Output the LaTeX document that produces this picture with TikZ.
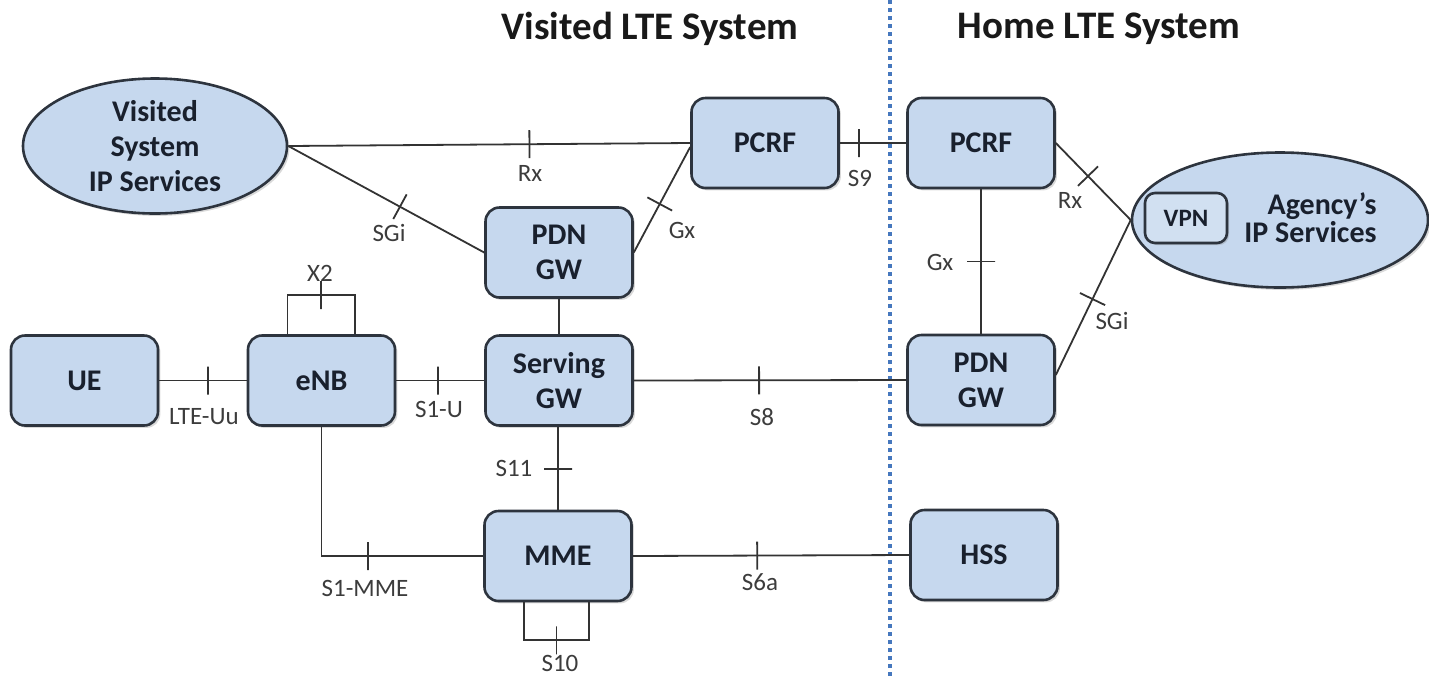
\documentclass[tikz,border=0pt]{standalone}
\usepackage{fontspec}
\setmainfont{Carlito}
\usetikzlibrary{shapes.geometric,shadows}
\definecolor{boxfill}{RGB}{198,216,238}
\definecolor{boxdraw}{RGB}{45,52,62}
\definecolor{txt}{RGB}{25,32,45}
\definecolor{lbl}{RGB}{60,60,60}
\definecolor{divider}{RGB}{70,120,190}
\begin{document}
\begin{tikzpicture}[x=0.5pt,y=-0.5pt,
  box/.style={draw=boxdraw, line width=1.3pt, fill=boxfill, rounded corners=7pt,
    minimum width=73.5pt, minimum height=45pt, inner sep=0pt, align=center,
    font=\fontsize{15}{17.5}\selectfont\bfseries, text=txt,
    drop shadow={opacity=0.3, shadow xshift=1.2pt, shadow yshift=-1.2pt}},
  smallbox/.style={draw=boxdraw, line width=1.3pt, fill=boxfill!80!white, rounded corners=5pt,
    minimum width=41pt, minimum height=25pt, inner sep=0pt,
    font=\fontsize{12.5}{15}\selectfont\bfseries, text=txt,
    drop shadow={opacity=0.3, shadow xshift=1pt, shadow yshift=-1pt}},
  ell/.style={ellipse, draw=boxdraw, line width=1.3pt, fill=boxfill, inner sep=0pt, align=center,
    font=\fontsize{15}{17.5}\selectfont\bfseries, text=txt,
    drop shadow={opacity=0.3, shadow xshift=1.2pt, shadow yshift=-1.2pt}},
  link/.style={draw=black!80, line width=0.9pt},
  tick/.style={draw=black!80, line width=0.9pt, shape=rectangle, minimum width=0pt,
    minimum height=14pt, inner sep=0pt, outer sep=0pt, sloped},
  lbl/.style={font=\fontsize{12.5}{15}\selectfont, text=lbl, inner sep=1pt},
  ttl/.style={font=\fontsize{19.5}{23}\selectfont\bfseries, text=black!90},
  dotline/.style={draw=divider, line width=2pt, dash pattern=on 2pt off 2pt}
]
\useasboundingbox (0,0) rectangle (1429,676);

% divider
\coordinate (dtop) at (890,0);
\coordinate (dbot) at (890,676);
\draw[dotline] (dtop) -- (dbot);

% titles
\node[ttl] (tvis) at (650,29) {Visited LTE System};
\node[ttl] (thome) at (1099,29) {Home LTE System};

% nodes
\node[ell, minimum width=132pt, minimum height=67.5pt] (vis) at (155,146) {Visited\\System\\IP Services};
\node[box] (pcrfv) at (765,143) {PCRF};
\node[box] (pdnv) at (559,252.5) {PDN\\GW};
\node[box] (pcrfh) at (981,143) {PCRF};
\node[ell, minimum width=148pt, minimum height=67.5pt] (agency) at (1280,220) {};
\node[smallbox] (vpn) at (1186,218) {VPN};
\node[align=right, font=\fontsize{15}{14}\selectfont\bfseries, text=txt, anchor=east, inner sep=0pt] (agtxt) at (1377,218) {Agency’s\\IP Services};
\node[box] (ue) at (84.5,380.5) {UE};
\node[box] (enb) at (321.5,380.5) {eNB};
\node[box] (sgw) at (559,380.5) {Serving\\GW};
\node[box] (pdnh) at (981,380) {PDN\\GW};
\node[box] (mme) at (558,556) {MME};
\node[box] (hss) at (984,555) {HSS};

% connectors
\draw[link] (vis.east) -- node[tick, pos=0.60]{} (pcrfv.west);
\draw[link] (vis.east) -- node[tick, pos=0.57]{} (pdnv.west);
\draw[link] (pdnv.east) -- node[tick, pos=0.46]{} ([yshift=-2pt]pcrfv.west);
\draw[link] (pcrfv.east) -- node[tick, pos=0.29]{} (pcrfh.west);
\draw[link] (pcrfh.east) -- node[tick, pos=0.43]{} (agency.west);
\draw[link] (pcrfh.south) -- node[tick, pos=0.50]{} (pdnh.north);
\draw[link] ([yshift=2.5pt]pdnh.east) -- node[tick, pos=0.49]{} (agency.west);
\draw[link] (ue.east) -- node[tick, pos=0.56]{} (enb.west);
\draw[link] (enb.east) -- node[tick, pos=0.47]{} (sgw.west);
\draw[link] ([xshift=-17pt]enb.north) |- node[tick, pos=0.75]{} ([xshift=16.75pt, yshift=19.5pt]enb.north) -- ([xshift=16.75pt]enb.north);
\draw[link] (pdnv.south) -- (sgw.north);
\draw[link] (sgw.east) -- node[tick, pos=0.46]{} (pdnh.west);
\draw[link] ([xshift=-0.5pt]sgw.south) -- node[tick, pos=0.51]{} (mme.north);
\draw[link] (enb.south) |- node[tick, pos=0.645]{} (mme.west);
\draw[link] (mme.east) -- node[tick, pos=0.45]{} (hss.west);
\draw[link] ([xshift=-17pt]mme.south) |- node[tick, pos=0.75]{} ([xshift=15.5pt, yshift=-19pt]mme.south) -- ([xshift=15.5pt]mme.south);

% interface labels
\node[lbl] (lrxv) at (530,173) {Rx};
\node[lbl] (lsgiv) at (389,233) {SGi};
\node[lbl] (lgxv) at (682,230) {Gx};
\node[lbl] (ls9) at (860,178) {S9};
\node[lbl] (lx2) at (320,273) {X2};
\node[lbl] (lltu) at (204,417) {LTE-Uu};
\node[lbl] (ls1u) at (439,409) {S1-U};
\node[lbl] (ls1m) at (365,588) {S1-MME};
\node[lbl] (ls8) at (762,417) {S8};
\node[lbl] (ls11) at (514,468) {S11};
\node[lbl] (ls6a) at (760,582) {S6a};
\node[lbl] (ls10) at (560,663) {S10};
\node[lbl] (lrxh) at (1070,200) {Rx};
\node[lbl] (lgxh) at (940,262) {Gx};
\node[lbl] (lsgih) at (1112,321) {SGi};
\end{tikzpicture}
\end{document}
